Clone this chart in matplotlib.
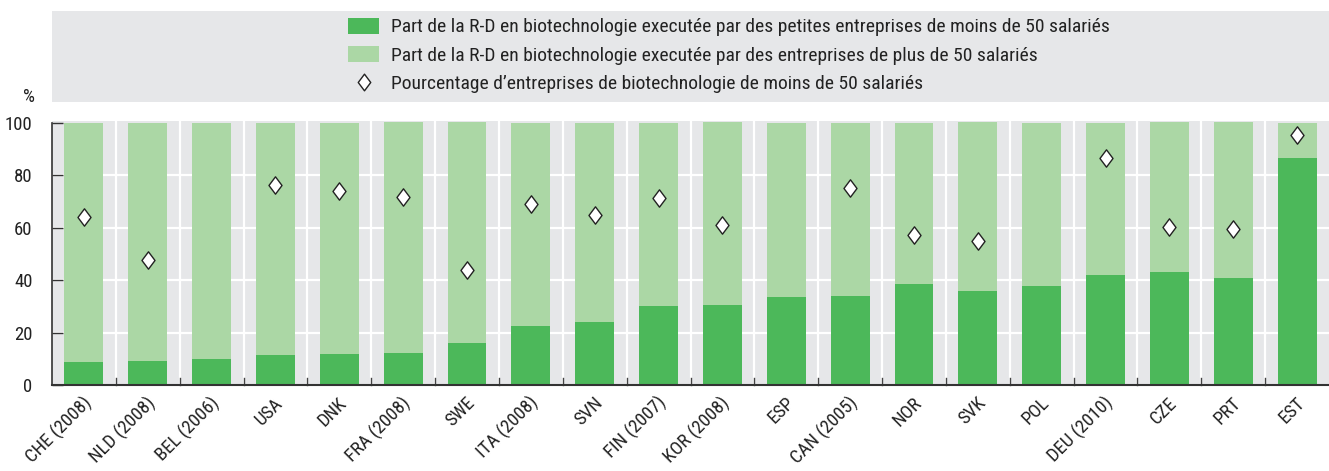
import numpy as np
import matplotlib
matplotlib.use("Agg")
import matplotlib.pyplot as plt
from matplotlib import font_manager
from matplotlib.patches import Patch, Rectangle
from matplotlib.lines import Line2D
from matplotlib.path import Path
from matplotlib.transforms import ScaledTranslation

countries = ["CHE (2008)", "NLD (2008)", "BEL (2006)", "USA", "DNK", "FRA (2008)",
             "SWE", "ITA (2008)", "SVN", "FIN (2007)", "KOR (2008)", "ESP",
             "CAN (2005)", "NOR", "SVK", "POL", "DEU (2010)", "CZE", "PRT", "EST"]
small_rd = [8.8, 9.2, 10.0, 11.4, 11.9, 12.3, 16.0, 22.5, 24.0, 30.0, 30.4, 33.5,
            33.8, 38.4, 35.7, 37.6, 42.0, 43.2, 40.9, 86.4]
large_rd = [91.2, 90.8, 90.0, 88.6, 88.1, 88.1, 84.4, 77.5, 76.0, 70.0, 70.0, 66.5,
            66.2, 61.6, 64.7, 62.4, 58.0, 57.2, 59.5, 13.6]
small_firms = [64.0, 47.8, np.nan, 76.1, 74.0, 71.7, 43.9, 68.9, 64.8, 71.1, 61.0,
               np.nan, 75.1, 57.2, 54.7, np.nan, 86.6, 60.2, 59.5, 95.2]

labels = ["Part de la R-D en biotechnologie executée par des petites entreprises de moins de 50 salariés",
          "Part de la R-D en biotechnologie executée par des entreprises de plus de 50 salariés",
          "Pourcentage d\u2019entreprises de biotechnologie de moins de 50 salariés"]

DARK = "#4cb85a"
LIGHT = "#abd7a5"
BG = "#e6e7e9"
TXT = "#222222"

# pick a condensed face if there is one, else plain Liberation Sans
fonts = font_manager.fontManager.ttflist
names = {f.name for f in fonts}
family, stretch = "Liberation Sans", "normal"
for cand in ["Roboto Condensed", "Liberation Sans Narrow", "Open Sans Condensed"]:
    if cand in names:
        family = cand
        break
else:
    for cand in ["Roboto", "Noto Sans", "Open Sans", "DejaVu Sans"]:
        if any(f.name == cand and f.stretch in ("condensed", "semi-condensed", 500, 600)
               for f in fonts):
            family, stretch = cand, "condensed"
            break

plt.rcParams['font.family'] = [family, 'DejaVu Sans']
plt.rcParams['font.stretch'] = stretch
FS = 13.5
LFS = 14
plt.rcParams['font.size'] = FS

fig = plt.figure(figsize=(13.29, 4.71), dpi=100)
ax = fig.add_axes([52 / 1329, 86 / 471, 1 - 52 / 1329, 264 / 471])
ax.set_facecolor(BG)

x = np.arange(len(countries))
ax.bar(x, small_rd, width=0.61, color=DARK, zorder=3)
ax.bar(x, large_rd, width=0.61, bottom=small_rd, color=LIGHT, zorder=3)

diamond = Path([(0, 1), (0.75, 0), (0, -1), (-0.75, 0), (0, 1)],
               [Path.MOVETO, Path.LINETO, Path.LINETO, Path.LINETO, Path.CLOSEPOLY])
ax.plot(x, small_firms, linestyle="none", marker=diamond, markersize=12.5,
        markerfacecolor="white", markeredgecolor="#222222", markeredgewidth=1.0, zorder=4)

ax.set_xlim(-0.5, len(countries) - 0.5)
ax.set_ylim(0, 100.6)

# white grid: horizontal at y ticks, vertical at category boundaries
for yv in [20, 40, 60, 80]:
    ax.axhline(yv, color="white", lw=1.6, zorder=1)
for xb in np.arange(0.5, len(countries) - 0.5, 1):
    ax.axvline(xb, color="white", lw=1.6, zorder=1)

ax.set_yticks([0, 20, 40, 60, 80, 100])
ax.tick_params(axis="y", direction="in", length=8, width=1, color="#333333",
               labelcolor=TXT, labelsize=FS, pad=14)
ax.set_xticks(x)
ax.set_xticklabels(countries, rotation=45, ha="right", va="center",
                   rotation_mode="anchor", color=TXT, fontsize=FS)
ax.tick_params(axis="x", length=0, pad=11)
shift = ScaledTranslation(5 / 100, 0, fig.dpi_scale_trans)
for lab in ax.get_xticklabels():
    lab.set_transform(lab.get_transform() + shift)
for xb in np.arange(0.5, len(countries) - 0.5, 1):
    ax.plot([xb, xb], [0, 2.6], color="#444444", lw=1, zorder=5, clip_on=False)

for s in ["top", "right"]:
    ax.spines[s].set_visible(False)
ax.spines["left"].set_color("#333333")
ax.spines["left"].set_linewidth(1.2)
ax.spines["left"].set_bounds(0, 100)
ax.spines["left"].set_zorder(6)
ax.spines["bottom"].set_color("#333333")
ax.spines["bottom"].set_linewidth(1.5)
ax.spines["bottom"].set_zorder(6)

fig.text(29 / 1329, 1 - 97 / 471, "%", ha="center", va="center", color=TXT, fontsize=FS)

# legend panel
fig.patches.append(Rectangle((52 / 1329, 1 - 102 / 471), 1 - 52 / 1329, 91 / 471,
                             transform=fig.transFigure, facecolor=BG, edgecolor="none", zorder=0))
handles = [Patch(facecolor=DARK, edgecolor="none"),
           Patch(facecolor=LIGHT, edgecolor="none"),
           Line2D([], [], linestyle="none", marker=diamond, markersize=12,
                  markerfacecolor="white", markeredgecolor="#222222", markeredgewidth=1.0)]
leg = fig.legend(handles, labels, loc="upper left", bbox_to_anchor=(348 / 1329, 1 - 18 / 471),
                 frameon=False, fontsize=LFS, handlelength=1.6, handleheight=0.85,
                 handletextpad=0.6, labelspacing=0.5, borderaxespad=0, borderpad=0)
for t in leg.get_texts():
    t.set_color(TXT)

fig.savefig("out.png", dpi=100)
